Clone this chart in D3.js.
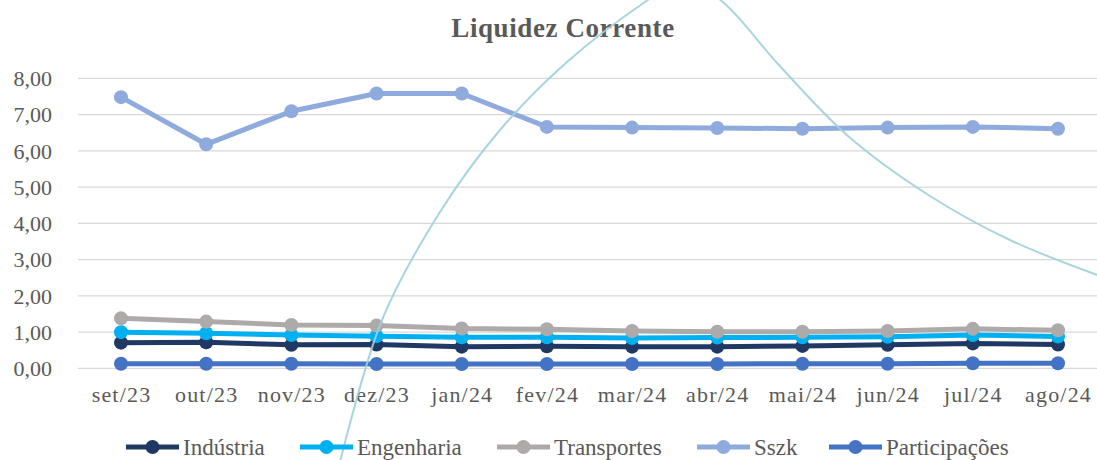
<!DOCTYPE html>
<html>
<head>
  <meta charset="utf-8">
  <title>Liquidez Corrente</title>
  <script src="https://d3js.org/d3.v7.min.js"></script>
  <style>
    body { margin: 0; background: #fff; }
  </style>
</head>
<body>
  <div id="chart"></div>

  <script>
    // data
    var months = ['set/23', 'out/23', 'nov/23', 'dez/23', 'jan/24', 'fev/24', 'mar/24', 'abr/24', 'mai/24', 'jun/24', 'jul/24', 'ago/24'];
    var industria     = [0.71, 0.72, 0.65, 0.66, 0.60, 0.61, 0.60, 0.60, 0.62, 0.65, 0.69, 0.66];
    var engenharia    = [1.00, 0.97, 0.92, 0.89, 0.86, 0.86, 0.84, 0.85, 0.86, 0.87, 0.92, 0.88];
    var transportes   = [1.38, 1.29, 1.20, 1.18, 1.10, 1.08, 1.03, 1.01, 1.01, 1.03, 1.09, 1.05];
    var sszk          = [7.48, 6.18, 7.09, 7.58, 7.58, 6.66, 6.64, 6.63, 6.61, 6.64, 6.66, 6.61];
    var participacoes = [0.13, 0.13, 0.13, 0.12, 0.12, 0.12, 0.12, 0.12, 0.13, 0.13, 0.14, 0.14];
    var yTicks = [0, 1, 2, 3, 4, 5, 6, 7, 8];

    var series = [
      { name: 'Indústria', values: industria, color: '#1f3864' },
      { name: 'Engenharia', values: engenharia, color: '#00b0f0' },
      { name: 'Transportes', values: transportes, color: '#aeaaaa' },
      { name: 'Sszk', values: sszk, color: '#8faadc' },
      { name: 'Participações', values: participacoes, color: '#4472c4' }
    ];

    var FONT = '"Liberation Serif"';
    var W = 1097, H = 460;
    var svg = d3.select('#chart').append('svg')
      .attr('width', W)
      .attr('height', H);

    // plot area runs from 78 to past the right edge, one band per month
    var x = d3.scalePoint()
      .domain(months)
      .range([121, 1058]);

    var y = d3.scaleLinear()
      .domain([0, 8])
      .range([368.4, 78.3]);

    // gridlines
    svg.append('g')
      .selectAll('line')
      .data(yTicks)
      .enter()
      .append('line')
      .attr('x1', 78)
      .attr('x2', W)
      .attr('y1', function(d) { return y(d); })
      .attr('y2', function(d) { return y(d); })
      .attr('stroke', '#d9d9d9')
      .attr('stroke-width', 1.3);

    // y axis labels
    var fmt = function(d) { return d3.format('.2f')(d).replace('.', ','); };
    var yAxis = svg.append('g')
      .attr('transform', 'translate(52,0)')
      .call(d3.axisLeft(y).tickValues(yTicks).tickFormat(fmt).tickSize(0).tickPadding(0));
    yAxis.select('.domain').remove();
    yAxis.selectAll('text')
      .attr('dy', '0.33em')
      .style('font-size', '22px')
      .style('fill', '#595959')
      .style('font-family', FONT);

    // x axis labels
    var xAxis = svg.append('g')
      .attr('transform', 'translate(0,402)')
      .call(d3.axisBottom(x).tickSize(0).tickPadding(0));
    xAxis.select('.domain').remove();
    xAxis.selectAll('text')
      .attr('y', 0)
      .attr('dy', 0)
      .style('font-size', '22px')
      .style('letter-spacing', '1.2px')
      .style('fill', '#595959')
      .style('font-family', FONT);

    // title
    svg.append('text')
      .attr('x', 563)
      .attr('y', 37)
      .attr('text-anchor', 'middle')
      .style('font-size', '27px')
      .style('font-weight', 'bold')
      .style('letter-spacing', '0.6px')
      .style('fill', '#595959')
      .style('font-family', FONT)
      .text('Liquidez Corrente');

    // series
    var line = d3.line()
      .x(function(d, i) { return x(months[i]); })
      .y(function(d) { return y(d); });

    series.forEach(function(s) {
      var g = svg.append('g');
      g.append('path')
        .datum(s.values)
        .attr('d', line)
        .attr('fill', 'none')
        .attr('stroke', s.color)
        .attr('stroke-width', 5)
        .attr('stroke-linejoin', 'round');
      g.selectAll('circle')
        .data(s.values)
        .enter()
        .append('circle')
        .attr('cx', function(d, i) { return x(months[i]); })
        .attr('cy', function(d) { return y(d); })
        .attr('r', 7)
        .attr('fill', s.color);
    });

    // thin decorative arc that crosses the picture (not data)
    var decor = [[338, 470], [382, 320], [440, 212], [500, 130], [567, 62], [645, 2], [685, -22], [725, 4], [778, 64], [848, 136], [930, 196], [1010, 240], [1100, 276]];
    svg.append('path')
      .attr('d', d3.line().curve(d3.curveCatmullRom)(decor))
      .attr('fill', 'none')
      .attr('stroke', '#9fd0d9')
      .attr('stroke-width', 2)
      .attr('opacity', 0.9);

    // legend
    var legendX = [126, 300, 497, 697, 829];
    var legend = svg.append('g');
    series.forEach(function(s, i) {
      var lg = legend.append('g').attr('transform', 'translate(' + legendX[i] + ',447)');
      lg.append('line')
        .attr('x1', 0).attr('x2', 53)
        .attr('stroke', s.color)
        .attr('stroke-width', 5);
      lg.append('circle')
        .attr('cx', 26.5)
        .attr('r', 7)
        .attr('fill', s.color);
      lg.append('text')
        .attr('x', 57)
        .attr('dy', '0.33em')
        .style('font-size', '23px')
        .style('fill', '#595959')
        .style('font-family', FONT)
        .text(s.name);
    });
  </script>
</body>
</html>
